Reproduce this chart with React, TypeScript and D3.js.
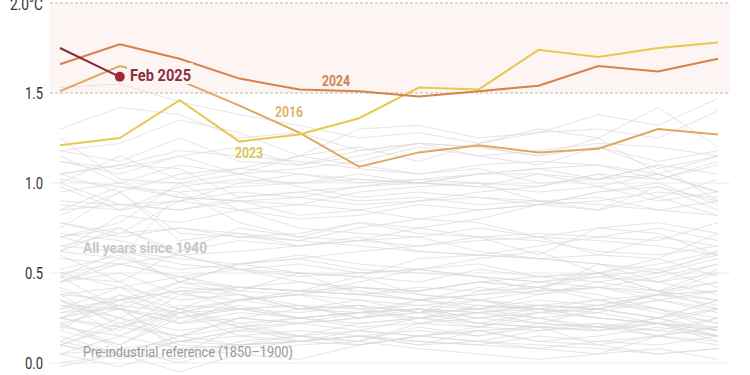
import React from "react";
import * as d3 from "d3";

const months = ["Jan","Feb","Mar","Apr","May","Jun","Jul","Aug","Sep","Oct","Nov","Dec"];
const yTicks = [0, 0.5, 1.0, 1.5, 2.0];
const tickLabels = ["0.0", "0.5", "1.0", "1.5", "2.0°C"];

const y2016 = [1.51,1.65,1.57,1.43,1.28,1.09,1.17,1.21,1.17,1.19,1.30,1.27];
const y2023 = [1.21,1.25,1.46,1.23,1.27,1.36,1.53,1.52,1.74,1.70,1.75,1.78];
const y2024 = [1.66,1.77,1.69,1.58,1.52,1.51,1.48,1.51,1.54,1.65,1.62,1.69];
const y2025 = [1.75,1.59];

const grayYears: number[][] = [
  [0.25,0.38,0.30,0.42,0.45,0.40,0.35,0.38,0.42,0.50,0.45,0.55],
  [0.50,0.42,0.48,0.40,0.38,0.45,0.52,0.48,0.40,0.55,0.45,0.38],
  [0.42,0.30,0.22,0.35,0.30,0.28,0.25,0.32,0.30,0.28,0.35,0.30],
  [0.20,0.35,0.28,0.30,0.32,0.25,0.35,0.30,0.38,0.42,0.35,0.40],
  [0.45,0.50,0.38,0.42,0.40,0.48,0.45,0.52,0.48,0.50,0.40,0.35],
  [0.40,0.32,0.45,0.38,0.30,0.35,0.28,0.40,0.42,0.35,0.30,0.18],
  [0.32,0.25,0.18,0.22,0.15,0.12,0.22,0.20,0.25,0.18,0.22,0.15],
  [0.18,0.10,0.25,0.30,0.28,0.32,0.22,0.25,0.30,0.35,0.28,0.22],
  [0.38,0.20,0.15,0.25,0.22,0.18,0.25,0.22,0.20,0.18,0.25,0.15],
  [0.22,0.30,0.12,0.18,0.15,0.12,0.20,0.15,0.22,0.20,0.15,0.10],
  [0.00,0.05,0.15,0.10,0.12,0.15,0.10,0.12,0.08,0.05,0.15,0.12],
  [0.10,0.02,0.12,0.18,0.22,0.25,0.28,0.30,0.32,0.30,0.25,0.35],
  [0.32,0.30,0.22,0.28,0.25,0.20,0.22,0.28,0.25,0.20,0.18,0.25],
  [0.28,0.35,0.40,0.38,0.30,0.32,0.28,0.30,0.25,0.28,0.22,0.30],
  [0.12,0.25,0.10,0.08,0.12,0.10,0.15,0.12,0.18,0.20,0.22,0.12],
  [0.22,0.08,0.00,0.10,0.12,0.15,0.10,0.18,0.12,0.10,0.05,0.08],
  [0.05,-0.02,0.08,0.10,0.12,0.15,0.12,0.10,0.08,0.12,0.15,0.20],
  [0.10,0.22,0.15,0.25,0.30,0.32,0.28,0.35,0.30,0.32,0.38,0.40],
  [0.48,0.45,0.30,0.35,0.38,0.30,0.32,0.35,0.28,0.30,0.35,0.28],
  [0.35,0.22,0.32,0.30,0.25,0.28,0.30,0.25,0.22,0.20,0.25,0.30],
  [0.25,0.32,0.05,0.20,0.25,0.28,0.30,0.28,0.32,0.30,0.25,0.35],
  [0.30,0.42,0.35,0.38,0.32,0.30,0.25,0.28,0.30,0.25,0.22,0.20],
  [0.28,0.30,0.25,0.32,0.25,0.28,0.30,0.25,0.28,0.32,0.30,0.22],
  [0.18,0.38,0.22,0.25,0.22,0.28,0.35,0.38,0.40,0.42,0.40,0.30],
  [0.35,0.15,0.08,0.05,0.10,0.12,0.08,0.05,0.02,0.05,0.08,0.02],
  [0.15,0.05,0.12,0.10,0.15,0.18,0.15,0.20,0.18,0.22,0.15,0.25],
  [0.10,0.20,0.30,0.22,0.25,0.28,0.30,0.22,0.20,0.18,0.22,0.18],
  [0.22,0.10,0.28,0.20,0.15,0.22,0.25,0.28,0.22,0.30,0.25,0.18],
  [0.05,0.15,0.30,0.20,0.12,0.15,0.18,0.15,0.20,0.22,0.18,0.15],
  [0.20,0.15,0.28,0.35,0.38,0.35,0.32,0.30,0.35,0.32,0.38,0.45],
  [0.38,0.42,0.25,0.30,0.25,0.22,0.25,0.20,0.28,0.25,0.22,0.18],
  [0.10,0.05,0.02,0.12,0.15,0.10,0.15,0.18,0.12,0.15,0.20,0.15],
  [-0.02,0.05,0.15,0.20,0.22,0.25,0.30,0.28,0.32,0.35,0.38,0.40],
  [0.45,0.55,0.48,0.42,0.40,0.38,0.35,0.32,0.30,0.25,0.22,0.15],
  [0.05,0.08,0.12,0.15,0.18,0.15,0.12,0.10,0.15,0.12,0.10,0.15],
  [0.25,0.20,0.28,0.15,0.12,0.18,0.15,0.12,0.10,0.08,0.05,0.08],
  [0.12,0.05,-0.05,0.05,0.02,0.10,0.15,0.18,0.20,0.10,0.15,0.20],
  [0.30,0.35,0.45,0.42,0.40,0.42,0.38,0.35,0.32,0.30,0.38,0.35],
  [0.38,0.35,0.40,0.30,0.32,0.25,0.28,0.22,0.28,0.30,0.38,0.32],
  [0.25,0.18,0.38,0.35,0.38,0.42,0.40,0.45,0.48,0.50,0.55,0.62],
  [0.52,0.60,0.45,0.55,0.58,0.52,0.50,0.48,0.45,0.48,0.52,0.42],
  [0.70,0.62,0.55,0.52,0.48,0.50,0.52,0.55,0.48,0.45,0.50,0.58],
  [0.25,0.32,0.28,0.35,0.40,0.38,0.42,0.40,0.45,0.42,0.48,0.55],
  [0.65,0.62,0.58,0.55,0.60,0.55,0.52,0.58,0.62,0.50,0.58,0.48],
  [0.48,0.30,0.42,0.40,0.50,0.38,0.40,0.45,0.42,0.38,0.30,0.25],
  [0.35,0.25,0.40,0.42,0.40,0.38,0.35,0.42,0.38,0.45,0.40,0.45],
  [0.50,0.55,0.48,0.52,0.45,0.42,0.40,0.45,0.42,0.48,0.45,0.50],
  [0.48,0.62,0.45,0.55,0.58,0.62,0.65,0.68,0.70,0.60,0.58,0.72],
  [0.78,0.70,0.75,0.72,0.68,0.65,0.62,0.60,0.58,0.55,0.50,0.62],
  [0.45,0.58,0.52,0.55,0.50,0.48,0.58,0.60,0.58,0.55,0.52,0.60],
  [0.62,0.58,0.95,0.78,0.70,0.68,0.65,0.70,0.60,0.75,0.78,0.72],
  [0.70,0.75,0.62,0.75,0.70,0.78,0.72,0.70,0.68,0.62,0.60,0.65],
  [0.72,0.68,0.60,0.52,0.50,0.48,0.38,0.35,0.40,0.42,0.38,0.50],
  [0.58,0.55,0.60,0.52,0.55,0.50,0.52,0.48,0.45,0.50,0.40,0.52],
  [0.60,0.45,0.62,0.68,0.65,0.70,0.62,0.60,0.65,0.70,0.75,0.68],
  [0.82,0.95,0.72,0.70,0.68,0.75,0.80,0.78,0.70,0.75,0.72,0.60],
  [0.62,0.75,0.60,0.62,0.65,0.68,0.70,0.62,0.58,0.60,0.70,0.65],
  [0.65,0.72,0.75,0.70,0.72,0.78,0.75,0.80,0.88,0.90,0.95,0.92],
  [1.00,1.15,1.02,1.08,1.05,1.00,1.02,1.00,0.90,0.92,0.85,0.90],
  [0.75,0.95,0.68,0.72,0.65,0.68,0.75,0.70,0.72,0.70,0.68,0.78],
  [0.62,0.82,0.78,0.85,0.75,0.72,0.70,0.75,0.70,0.68,0.65,0.60],
  [0.78,0.72,0.90,0.85,0.88,0.85,0.90,0.92,0.88,0.85,0.98,0.90],
  [1.05,1.10,1.08,0.92,0.95,0.90,0.92,0.88,0.90,0.85,0.92,0.82],
  [1.00,0.88,0.85,0.90,0.92,0.88,0.90,0.95,0.98,1.05,0.92,1.02],
  [0.95,1.00,0.92,0.90,0.82,0.85,0.80,0.85,0.88,0.95,1.00,0.88],
  [0.98,0.85,0.98,1.02,1.00,1.05,1.00,0.98,1.05,1.02,1.05,0.95],
  [0.85,0.98,0.92,0.90,0.88,0.95,0.98,1.00,0.98,1.05,1.02,1.10],
  [1.25,1.02,1.00,1.05,0.98,0.92,0.95,0.92,0.90,0.88,0.85,0.82],
  [0.70,0.78,1.00,0.85,0.80,0.82,0.88,0.85,0.88,0.95,0.98,0.85],
  [0.90,0.88,0.85,0.92,0.95,0.98,1.02,1.05,1.05,0.98,1.05,0.95],
  [1.05,1.10,1.18,1.15,1.12,1.08,1.05,1.08,1.00,1.02,1.10,0.90],
  [0.88,0.85,0.90,0.95,0.92,0.98,1.00,0.98,0.95,0.98,0.90,0.95],
  [0.85,0.88,0.90,1.00,1.05,1.02,1.00,1.05,1.08,1.10,1.05,0.95],
  [1.02,0.98,0.95,0.98,1.00,1.02,1.00,1.05,1.08,1.02,1.10,1.05],
  [1.05,0.95,1.05,1.08,1.15,1.10,1.05,1.10,1.12,1.10,1.02,1.12],
  [1.12,1.08,1.15,1.05,1.15,1.20,1.12,1.22,1.28,1.38,1.32,1.47],
  [1.30,1.42,1.38,1.25,1.28,1.18,1.22,1.20,1.15,1.20,1.12,1.18],
  [1.12,1.05,1.15,1.20,1.10,1.15,1.22,1.15,1.10,1.20,1.08,1.15],
  [1.18,1.22,1.35,1.28,1.15,1.30,1.32,1.25,1.28,1.30,1.25,1.40],
  [1.53,1.55,1.45,1.38,1.32,1.25,1.28,1.22,1.30,1.25,1.42,1.20],
  [1.15,1.00,1.10,1.05,1.08,1.12,1.20,1.15,1.18,1.22,1.20,1.15],
  [1.18,1.12,1.25,1.12,1.10,1.18,1.22,1.20,1.15,1.25,1.05,1.15],
];

const W = 750, H = 375;
const FONT = "Roboto, 'Noto Sans', sans-serif";

export default function App() {
  const x = d3.scalePoint<string>().domain(months).range([60, 718]);
  const y = d3.scaleLinear().domain([0, 2]).range([363, 3]);
  const line = d3.line<number>().x((_, i) => x(months[i]) as number).y((d) => y(d));
  const x0 = 50, x1 = 730;

  return (
    <svg width={W} height={H} style={{ position: "absolute", left: 0, top: 0, background: "#fff" }}>
      <rect x={x0} y={y(2)} width={x1 - x0} height={y(1.5) - y(2)} fill="#fcf5f3" />
      {yTicks.map((t, i) => (
        <g key={t}>
          <line x1={x0} x2={x1} y1={y(t)} y2={y(t)}
            stroke={t >= 1.5 ? "#b8b8b8" : "#ececec"}
            strokeDasharray={t >= 1.5 ? "3,2" : undefined} strokeWidth={1} />
          <text x={43} y={y(t) + (t === 2 ? 1 : 0)} dy="0.36em" textAnchor="end" fontFamily={FONT} fontSize={16}
            fill="#333" textLength={t === 2 ? 33 : 18} lengthAdjust="spacingAndGlyphs">{tickLabels[i]}</text>
        </g>
      ))}
      <g fill="none" stroke="#dcd9d8" strokeWidth={1} strokeOpacity={0.7}>
        {grayYears.map((d, i) => <path key={i} d={line(d) || ""} />)}
      </g>
      <text x={83} y={253} fontFamily={FONT} fontSize={15} fontWeight={700} fill="#c8c6c6"
        textLength={124} lengthAdjust="spacingAndGlyphs">All years since 1940</text>
      <text x={83} y={357} fontFamily={FONT} fontSize={14} fill="#9a9a9a"
        textLength={210} lengthAdjust="spacingAndGlyphs">Pre-industrial reference (1850–1900)</text>
      <path d={line(y2016) || ""} fill="none" stroke="#dea95e" strokeWidth={2} />
      <path d={line(y2023) || ""} fill="none" stroke="#e8c84e" strokeWidth={2} />
      <path d={line(y2024) || ""} fill="none" stroke="#d9804a" strokeWidth={2} />
      <path d={line(y2025) || ""} fill="none" stroke="#8a2a40" strokeWidth={2} />
      <circle cx={x("Feb") as number} cy={y(y2025[1])} r={5} fill="#a3283d" />
      <rect x={127} y={63} width={66} height={21} fill="#fcf5f3" />
      <text x={130} y={81} fontFamily={FONT} fontSize={16} fontWeight={700} fill="#8e2c42"
        textLength={61} lengthAdjust="spacingAndGlyphs">Feb 2025</text>
      <text x={336} y={86} textAnchor="middle" fontFamily={FONT} fontSize={15} fontWeight={700} fill="#d2824e"
        textLength={28} lengthAdjust="spacingAndGlyphs">2024</text>
      <text x={289} y={117} textAnchor="middle" fontFamily={FONT} fontSize={15} fontWeight={700} fill="#dfb070"
        textLength={28} lengthAdjust="spacingAndGlyphs">2016</text>
      <text x={249} y={158} textAnchor="middle" fontFamily={FONT} fontSize={15} fontWeight={700} fill="#dcc45c"
        textLength={28} lengthAdjust="spacingAndGlyphs">2023</text>
    </svg>
  );
}
